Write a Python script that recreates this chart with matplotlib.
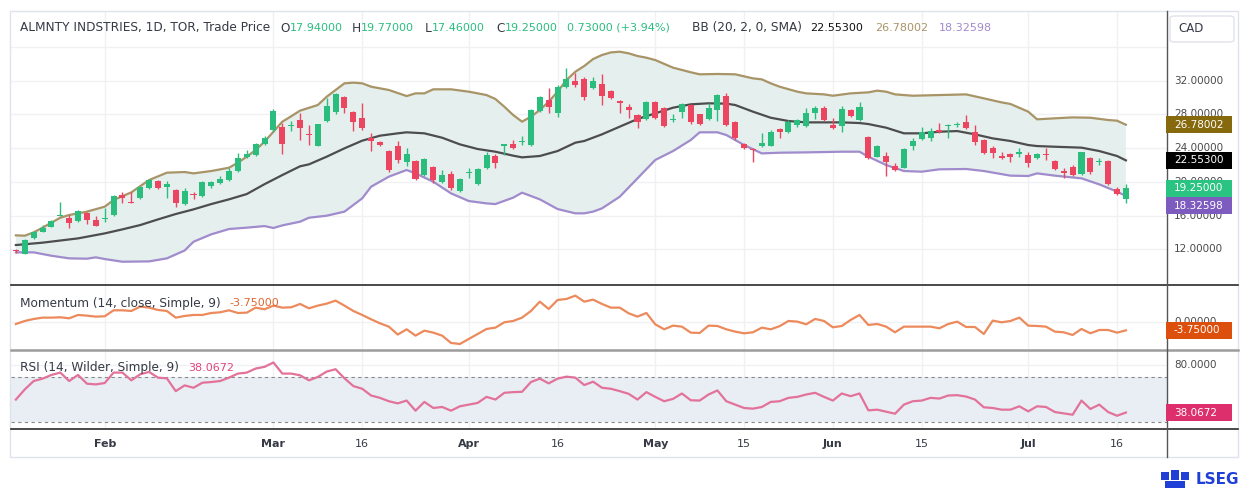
import numpy as np
import pandas as pd
import matplotlib
matplotlib.use("Agg")
import matplotlib.pyplot as plt
from matplotlib.patches import Rectangle, FancyBboxPatch
from matplotlib.lines import Line2D

# ---- data ----
dates = pd.bdate_range("2026-01-19", "2026-07-17")
holidays = pd.to_datetime(["2026-02-16", "2026-04-03", "2026-05-18", "2026-07-01"])
dates = dates[~dates.isin(holidays)]

opens = [11.85, 11.45, 13.3, 14.05, 14.7, 15.95, 15.75, 15.35, 16.27, 15.48,
         15.6, 16.1, 18.44, 17.6, 18.05, 19.23, 20.1, 19.35, 19.0, 17.35,
         18.55, 18.32, 19.55, 19.9, 20.2, 21.3, 22.9, 23.2, 24.5, 26.15,
         26.55, 26.6, 27.34, 25.7, 24.29, 27.2, 28.25, 30.03, 28.32, 27.6,
         25.17, 24.7, 23.66, 24.25, 22.32, 22.47, 20.8, 21.8, 20.0, 20.9,
         18.95, 21.0, 19.71, 21.6, 23.07, 24.3, 24.45, 24.75, 24.37, 28.44,
         29.7, 28.2, 31.2, 31.96, 32.15, 31.1, 31.57, 30.8, 29.6, 28.9,
         27.93, 27.45, 29.5, 28.73, 27.35, 28.32, 29.12, 28.0, 27.45, 28.52,
         30.22, 27.14, 24.45, 23.9, 24.25, 24.3, 26.23, 25.88, 26.74, 26.66,
         28.13, 28.73, 26.74, 26.66, 28.49, 27.34, 25.36, 23.0, 23.07, 21.92,
         21.68, 24.3, 25.08, 25.24, 26.1, 26.6, 26.7, 27.14, 25.88, 24.97,
         23.98, 23.1, 23.3, 23.27, 23.19, 22.8, 23.25, 22.5, 21.3, 21.8,
         20.93, 22.8, 22.35, 22.5, 19.16, 17.94]
highs = [12.0, 13.2, 14.2, 14.9, 15.5, 17.57, 16.07, 16.7, 16.4, 15.99,
         16.86, 18.5, 18.84, 18.84, 19.5, 20.3, 20.2, 20.14, 19.1, 19.31,
         18.85, 20.1, 20.1, 20.7, 21.6, 23.4, 23.8, 24.6, 25.5, 28.7,
         27.0, 27.2, 28.13, 26.75, 26.9, 29.99, 30.6, 30.2, 28.4, 29.3,
         25.76, 24.9, 23.8, 24.89, 24.05, 22.6, 22.8, 21.9, 21.41, 21.3,
         20.5, 21.6, 21.7, 23.58, 23.3, 24.55, 25.0, 25.48, 28.6, 30.2,
         31.17, 31.55, 33.47, 32.87, 32.47, 32.5, 32.76, 30.9, 29.7, 29.2,
         28.0, 29.6, 29.6, 28.9, 28.01, 29.3, 29.2, 28.1, 29.32, 30.4,
         30.6, 27.2, 24.6, 24.0, 25.75, 26.1, 26.4, 27.3, 27.5, 28.72,
         29.0, 29.0, 27.6, 29.0, 28.6, 29.5, 25.5, 24.4, 23.55, 22.3,
         24.0, 25.17, 26.55, 26.35, 26.95, 26.85, 27.1, 27.93, 26.75, 25.1,
         24.2, 23.5, 23.4, 23.98, 23.6, 23.4, 24.06, 22.6, 21.6, 22.0,
         23.6, 22.99, 22.8, 22.6, 19.43, 19.77]
lows = [11.6, 11.4, 13.2, 14.0, 14.65, 15.95, 14.57, 15.3, 15.0, 14.75,
        15.2, 16.0, 17.45, 17.45, 18.0, 19.1, 19.15, 18.1, 17.06, 17.3,
        18.0, 18.2, 19.23, 19.8, 20.1, 21.2, 22.8, 23.1, 24.4, 25.9,
        23.3, 26.0, 24.97, 24.37, 24.2, 27.1, 28.1, 28.13, 26.07, 26.2,
        23.66, 24.2, 21.2, 22.3, 21.92, 20.2, 20.7, 19.9, 19.9, 19.0,
        18.85, 20.42, 19.6, 21.5, 21.6, 23.19, 23.9, 24.4, 24.3, 28.3,
        28.13, 27.75, 31.1, 31.29, 29.7, 31.0, 29.1, 29.8, 28.13, 27.54,
        26.35, 27.3, 27.5, 26.5, 27.05, 27.6, 26.9, 26.7, 27.3, 27.22,
        26.6, 25.0, 23.9, 22.4, 24.1, 24.2, 25.24, 25.8, 26.5, 26.5,
        27.45, 27.2, 26.3, 25.88, 27.7, 27.2, 22.7, 22.9, 20.7, 21.3,
        21.6, 23.78, 25.0, 24.85, 25.8, 25.24, 26.5, 26.3, 24.37, 23.3,
        22.79, 22.7, 22.4, 22.99, 21.8, 22.7, 22.6, 21.4, 20.5, 20.7,
        20.8, 20.9, 22.0, 19.6, 18.45, 17.46]
closes = [11.75, 13.1, 14.0, 14.55, 15.4, 16.1, 15.1, 16.55, 15.48, 14.8,
          15.75, 18.36, 18.12, 17.5, 19.35, 20.2, 19.23, 19.8, 17.45, 18.9,
          18.45, 19.95, 20.02, 20.3, 21.3, 22.8, 23.3, 24.45, 25.17, 28.44,
          24.5, 26.74, 26.43, 25.6, 26.83, 29.0, 30.4, 28.73, 27.14, 26.35,
          24.85, 24.37, 21.37, 22.6, 23.3, 20.34, 22.67, 20.22, 20.8, 19.23,
          20.3, 21.15, 21.53, 23.19, 22.2, 24.45, 24.05, 24.9, 28.52, 30.03,
          28.9, 31.2, 32.15, 31.49, 30.03, 32.0, 30.22, 29.98, 29.3, 28.52,
          27.14, 29.5, 27.6, 26.66, 27.45, 29.2, 27.06, 26.86, 28.73, 30.3,
          26.74, 25.24, 24.05, 23.75, 24.57, 25.95, 25.88, 27.14, 27.34, 28.13,
          28.73, 27.34, 26.43, 28.64, 27.8, 28.84, 22.8, 24.25, 22.32, 21.4,
          23.9, 24.85, 25.88, 26.03, 25.88, 26.7, 26.8, 26.35, 24.76, 23.46,
          23.39, 22.8, 22.9, 23.58, 22.2, 23.27, 23.15, 21.53, 21.0, 20.8,
          23.5, 21.2, 22.45, 19.75, 18.52, 19.25]

# Bollinger bands: (bar index, value) vertices
bb_upper_idx = [0, 1, 2, 3, 4, 5, 6, 8, 10, 11, 13, 15, 17, 19, 20, 22, 24, 25, 26, 27, 28, 29, 30, 31, 32,
                34, 35, 36, 37, 38, 39, 40, 42, 44, 45, 46, 47, 49, 51, 53, 54, 55, 56, 57, 58, 59, 60, 61,
                62, 63, 64, 65, 66, 67, 68, 69, 70, 71, 72, 74, 76, 77, 79, 81, 83, 84, 85, 86, 88, 89, 91,
                92, 94, 96, 97, 98, 99, 101, 104, 107, 109, 111, 112, 114, 115, 117, 119, 121, 123, 124, 125]
bb_upper = [13.66, 13.62, 14.01, 14.57, 15.16, 15.75, 16.07, 16.47, 17.06, 17.85, 18.76, 20.22, 21.09,
            21.17, 21.01, 21.29, 21.68, 22.28, 22.99, 23.78, 24.77, 25.95, 27.14, 27.78, 28.45,
            29.12, 30.1, 30.9, 31.69, 31.77, 31.69, 31.29, 30.9, 30.18, 30.5, 30.5, 30.98, 30.98, 30.7,
            30.3, 29.83, 28.92, 27.93, 27.14, 27.73, 28.52, 29.51, 30.7, 32.08, 33.07, 33.74, 34.57,
            35.05, 35.36, 35.44, 35.25, 34.93, 34.73, 34.45, 33.55, 33.0, 32.76, 32.8, 32.76, 32.28,
            32.16, 31.69, 31.29, 30.7, 30.5, 30.38, 30.22, 30.5, 30.62, 30.82, 30.7, 30.38, 30.22,
            30.3, 30.38, 29.91, 29.43, 29.24, 28.33, 27.42, 27.54, 27.65, 27.61, 27.34, 27.26, 26.78002]
bb_mid_idx = [0, 3, 7, 10, 12, 14, 16, 18, 20, 22, 24, 26, 28, 30, 32, 33, 35, 37, 39, 41, 43, 44, 46, 48,
              50, 52, 54, 56, 57, 59, 61, 63, 64, 66, 68, 70, 72, 74, 76, 78, 80, 81, 83, 85, 87, 89, 91,
              93, 95, 96, 98, 100, 102, 104, 106, 108, 110, 112, 114, 115, 117, 120, 122, 124, 125]
bb_mid = [12.51, 12.79, 13.3, 13.89, 14.37, 14.88, 15.55, 16.19, 16.74, 17.37, 17.93, 18.56, 19.73,
          20.81, 21.85, 22.08, 22.99, 23.98, 24.89, 25.48, 25.76, 25.88, 25.76, 25.24, 24.45, 23.9,
          23.58, 23.11, 22.91, 23.07, 23.66, 24.65, 24.85, 25.64, 26.55, 27.46, 28.13, 28.8, 29.2,
          29.32, 29.28, 29.12, 28.33, 27.61, 27.22, 27.06, 27.06, 27.06, 26.98, 26.86, 26.43, 25.76,
          25.76, 25.95, 26.03, 25.64, 25.16, 24.85, 24.37, 24.25, 24.17, 24.06, 23.66, 23.07, 22.553]
bb_lower_idx = [0, 2, 4, 6, 8, 9, 10, 12, 15, 17, 19, 20, 22, 24, 26, 28, 29, 30, 32, 33, 35, 37, 39, 40,
                42, 44, 45, 47, 49, 51, 53, 54, 56, 57, 59, 61, 63, 64, 65, 66, 68, 70, 72, 74, 76, 77,
                79, 80, 81, 82, 84, 86, 89, 93, 95, 96, 98, 100, 102, 104, 107, 109, 112, 114, 115, 117,
                120, 122, 124, 125]
bb_lower = [11.64, 11.64, 11.24, 10.93, 10.89, 11.05, 10.85, 10.53, 10.57, 10.93, 11.86, 12.9, 13.78,
            14.41, 14.57, 14.76, 14.53, 14.84, 15.28, 15.75, 15.99, 16.47, 18.05, 19.43, 20.62, 21.41,
            21.01, 20.02, 18.64, 17.73, 17.45, 17.37, 18.13, 18.72, 17.93, 16.78, 16.27, 16.27, 16.47,
            16.86, 18.24, 20.42, 22.6, 23.66, 24.97, 25.88, 25.88, 25.56, 24.97, 24.37, 23.38, 23.46,
            23.5, 23.58, 23.58, 22.99, 22.0, 21.29, 21.21, 21.49, 21.53, 21.29, 20.74, 20.7, 21.01,
            20.74, 20.42, 19.71, 18.84, 18.32598]

momentum = [-0.78, 0.62, 1.55, 2.17, 2.17, 2.33, 1.86, 3.41, 3.1, 2.64,
            2.79, 5.58, 5.58, 5.27, 7.29, 6.82, 5.74, 5.27, 2.17, 2.95,
            3.41, 3.41, 4.34, 4.65, 5.58, 4.34, 4.5, 6.82, 6.05, 7.75,
            6.82, 6.98, 8.53, 6.51, 7.75, 8.68, 10.08, 7.75, 5.27, 3.41,
            1.4, -0.47, -2.02, -5.7, -3.26, -6.2, -3.88, -4.81, -6.2, -9.61,
            -10.08, -7.75, -5.43, -3.1, -2.48, 0.0, 0.62, 2.17, 5.27, 9.61,
            6.2, 10.39, 10.85, 12.4, 9.61, 10.54, 8.53, 6.82, 6.82, 4.19,
            2.64, 4.34, -0.93, -3.26, -1.55, -2.02, -4.81, -4.96, -1.55, -1.71,
            -3.26, -4.34, -5.12, -4.65, -2.48, -3.26, -1.8, 0.62, 0.31, -0.93,
            1.55, 0.62, -2.33, -1.71, 1.09, 3.41, -1.24, -0.78, -2.02, -4.65,
            -2.02, -2.02, -2.02, -2.02, -2.79, -0.78, 0.31, -2.17, -2.17, -5.43,
            0.78, 0.0, 0.62, 2.17, -1.55, -1.71, -2.02, -4.34, -4.65, -5.9,
            -3.1, -5.12, -3.57, -3.57, -4.81, -3.75]
rsi = [49.6, 58.6, 66.1, 68.2, 71.5, 73.6, 66.1, 71.5, 63.7, 63.1,
       64.3, 73.6, 73.6, 66.7, 72.1, 74.2, 69.1, 68.5, 57.1, 62.2,
       60.1, 64.6, 65.2, 66.1, 69.1, 72.7, 73.6, 77.2, 78.7, 82.6,
       72.7, 72.7, 71.2, 66.7, 69.7, 74.5, 76.6, 68.5, 61.6, 59.2,
       53.2, 51.1, 48.1, 46.2, 48.7, 39.7, 47.5, 42.1, 43.0, 39.7,
       43.6, 45.1, 46.6, 52.0, 49.6, 55.6, 56.2, 56.5, 65.2, 68.2,
       64.0, 68.2, 70.0, 69.1, 62.5, 65.5, 60.1, 59.2, 57.1, 54.7,
       49.6, 56.2, 52.0, 48.1, 50.2, 55.0, 49.0, 48.7, 54.1, 57.7,
       48.1, 45.1, 42.1, 41.5, 43.0, 47.5, 48.1, 51.1, 52.0, 54.1,
       55.6, 52.0, 48.7, 55.0, 52.6, 55.0, 40.0, 40.6, 38.8, 37.0,
       45.1, 48.1, 48.7, 51.1, 50.5, 53.2, 53.5, 52.3, 49.6, 42.7,
       42.1, 40.6, 40.6, 43.6, 39.1, 43.6, 43.0, 38.5, 37.3, 36.1,
       48.7, 41.2, 45.1, 38.5, 35.2, 38.0672]

tick_dates = ["2026-02-02", "2026-03-02", "2026-03-16", "2026-04-01", "2026-04-16", "2026-05-01",
              "2026-05-15", "2026-06-01", "2026-06-15", "2026-07-02", "2026-07-16"]
tick_labels = ["Feb", "Mar", "16", "Apr", "16", "May", "15", "Jun", "15", "Jul", "16"]
price_ticks = [12, 16, 20, 24, 28, 32]
price_grid = [12, 16, 20, 24, 28, 32, 36]

# ---- colours ----
GREEN = "#2bbd7e"
RED = "#eb4560"
TXT = "#363a45"
UP_C, MID_C, LOW_C = "#a89466", "#4d4d4d", "#a08bcc"
MOM_C, RSI_C = "#ec8a5c", "#e3729a"
GRID = "#f0f1f4"

W, H = 1250, 492
fig = plt.figure(figsize=(W / 100, H / 100), dpi=100)
fig.patch.set_facecolor("white")

X0, STEP = 15.9, 8.88    # pixel x of bar 0, pixels per bar
LEFT, RIGHT = 11, 1167
panels = {"main": (11, 285, 7.77, 40.27), "mom": (286, 350, -12.88, 16.88), "rsi": (350, 429, 23.4, 93.7)}


def add_panel(name):
    top, bot, lo, hi = panels[name]
    ax = fig.add_axes([LEFT / W, 1 - bot / H, (RIGHT - LEFT) / W, (bot - top) / H])
    ax.set_xlim((LEFT - X0) / STEP, (RIGHT - X0) / STEP)
    ax.set_ylim(lo, hi)
    ax.set_facecolor("none")
    for s in ax.spines.values():
        s.set_visible(False)
    ax.set_xticks([])
    ax.set_yticks([])
    return ax


def py(name, v):
    top, bot, lo, hi = panels[name]
    return top + (hi - v) / (hi - lo) * (bot - top)


def ftext(x, y, s, **kw):
    kw.setdefault("va", "center")
    kw.setdefault("ha", "left")
    kw.setdefault("fontsize", 8)
    return fig.text(x / W, 1 - y / H, s, **kw)


def fline(x1, y1, x2, y2, **kw):
    fig.add_artist(Line2D([x1 / W, x2 / W], [1 - y1 / H, 1 - y2 / H], transform=fig.transFigure, **kw))


def frect(x, y, w, h, **kw):
    fig.add_artist(Rectangle((x / W, 1 - (y + h) / H), w / W, h / H, transform=fig.transFigure, **kw))


renderer = fig.canvas.get_renderer()


def text_row(x, y, parts):
    for s, col, gap, size in parts:
        t = ftext(x, y, s, color=col, fontsize=size)
        x += t.get_window_extent(renderer=renderer).width + gap


tick_idx = [dates.get_loc(pd.Timestamp(d)) for d in tick_dates]
n = np.arange(len(closes))

ax = add_panel("main")
axm = add_panel("mom")
axr = add_panel("rsi")

for a in (ax, axm, axr):
    for t in tick_idx:
        a.axvline(t, color=GRID, lw=1, zorder=0)
for g in price_grid:
    ax.axhline(g, color=GRID, lw=1, zorder=0)
axm.axhline(0, color=GRID, lw=1, zorder=0)
for g in (40, 80):
    axr.axhline(g, color=GRID, lw=1, zorder=0)

# bollinger fill + lines
ax.fill(np.r_[bb_upper_idx, bb_lower_idx[::-1]], np.r_[bb_upper, bb_lower[::-1]],
        color="#e3efed", alpha=0.9, lw=0, zorder=1)
ax.plot(bb_upper_idx, bb_upper, color=UP_C, lw=1.6, zorder=2)
ax.plot(bb_mid_idx, bb_mid, color=MID_C, lw=1.6, zorder=2)
ax.plot(bb_lower_idx, bb_lower, color=LOW_C, lw=1.6, zorder=2)

# candles
o, h, l, c = map(np.array, (opens, highs, lows, closes))
cols = np.where(c >= o, GREEN, RED)
ax.vlines(n, l, h, colors=cols, lw=1, zorder=3)
ax.bar(n, np.maximum(np.abs(c - o), 0.12), bottom=np.minimum(o, c), width=0.68, color=cols, lw=0, zorder=4)

# momentum
axm.plot(n, momentum, color=MOM_C, lw=1.6, zorder=2)

# rsi
axr.axhspan(30, 70, color="#e8eef4", lw=0, zorder=0.5)
axr.axhline(70, color="#8a8a8a", lw=0.8, ls=(0, (3, 3)), zorder=1)
axr.axhline(30, color="#8a8a8a", lw=0.8, ls=(0, (3, 3)), zorder=1)
axr.plot(n, rsi, color=RSI_C, lw=1.6, zorder=2)

# frame and separators
frect(10, 11, 1228, 446, fill=False, ec="#e0e3eb", lw=1)
fline(11, 285, 1238, 285, color="#2a2a2a", lw=1.2)
fline(11, 350, 1238, 350, color="#9c9c9c", lw=1.8)
fline(11, 429, 1238, 429, color="#2a2a2a", lw=1.2)
fline(1167, 11, 1167, 457, color="#555555", lw=1)

# x labels
for t, lab in zip(tick_idx, tick_labels):
    ftext(X0 + STEP * t, 444, lab, ha="center", color=TXT, fontsize=8,
          fontweight="bold" if lab.isalpha() else "normal")

# right axis labels (partly hidden behind the value boxes, as on the chart)
for v in price_ticks:
    ftext(1174, py("main", v), f"{v:.5f}", color="#4a4a4a", fontsize=7.5, zorder=1)
ftext(1174, py("mom", 0), "0.00000", color="#4a4a4a", fontsize=7.5, zorder=1)
ftext(1174, py("rsi", 80), "80.0000", color="#4a4a4a", fontsize=7.5, zorder=1)


# value boxes on the right axis
def value_box(y, s, fc):
    frect(1166, y - 8.5, 66, 17, fc=fc, ec="none", zorder=5)
    ftext(1174, y, s, color="white", fontsize=7.5, zorder=6)


y_up = py("main", bb_upper[-1])
y_mid = py("main", bb_mid[-1])
y_cl = py("main", closes[-1])
y_lo = max(py("main", bb_lower[-1]), y_cl + 17.5)
value_box(y_up, f"{bb_upper[-1]:.5f}", "#85690c")
value_box(y_mid, f"{bb_mid[-1]:.5f}", "#000000")
value_box(y_cl, f"{closes[-1]:.5f}", "#2bc382")
value_box(y_lo, f"{bb_lower[-1]:.5f}", "#7e5cbf")
value_box(py("mom", momentum[-1]), f"{momentum[-1]:.5f}", "#dd4f0c")
value_box(py("rsi", rsi[-1]), f"{rsi[-1]:.4f}", "#dc2f6c")

# CAD box
fig.add_artist(FancyBboxPatch((1170 / W, 1 - 42 / H), 64 / W, 26 / H, boxstyle="round,pad=0,rounding_size=0.004",
                              transform=fig.transFigure, fc="white", ec="#e0e3eb", lw=1))
ftext(1178, 28.5, "CAD", color=TXT, fontsize=8.5)

# header rows
chg = closes[-1] - closes[-2]
LBL = 8.7
text_row(20, 28, [("ALMNTY INDSTRIES, 1D, TOR, Trade Price", TXT, 0, LBL)])
text_row(280, 28, [("O", TXT, 0, LBL), (f"{opens[-1]:.5f}", GREEN, 0, 8)])
text_row(352, 28, [("H", TXT, 0, LBL), (f"{highs[-1]:.5f}", GREEN, 0, 8)])
text_row(425, 28, [("L", TXT, 0, LBL), (f"{lows[-1]:.5f}", GREEN, 0, 8)])
text_row(496, 28, [("C", TXT, 0, LBL), (f"{closes[-1]:.5f}", GREEN, 0, 8)])
text_row(567, 28, [(f"{chg:.5f} (+{chg / closes[-2] * 100:.2f}%)", GREEN, 0, 8)])
text_row(692, 28, [("BB (20, 2, 0, SMA)", TXT, 0, LBL)])
text_row(810, 28, [(f"{bb_mid[-1]:.5f}", "#111111", 0, 8)])
text_row(875, 28, [(f"{bb_upper[-1]:.5f}", UP_C, 0, 8)])
text_row(939, 28, [(f"{bb_lower[-1]:.5f}", LOW_C, 0, 8)])

text_row(20, 303, [("Momentum (14, close, Simple, 9)", TXT, 9, LBL), (f"{momentum[-1]:.5f}", "#e0672e", 0, 8)])
text_row(20, 368, [("RSI (14, Wilder, Simple, 9)", TXT, 9, LBL), (f"{rsi[-1]:.4f}", "#e0457d", 0, 8)])

# LSEG mark
for dx, dy, ww, hh in [(1161, 472, 8, 8), (1171, 470, 8, 10), (1181, 472, 8, 8), (1165, 481, 20, 7)]:
    frect(dx, dy, ww, hh, fc="#1f3fd6", ec="none")
ftext(1196, 480, "LSEG", color="#1f3fd6", fontsize=11, fontweight="bold")

fig.savefig("out.png", dpi=100, facecolor="white")
